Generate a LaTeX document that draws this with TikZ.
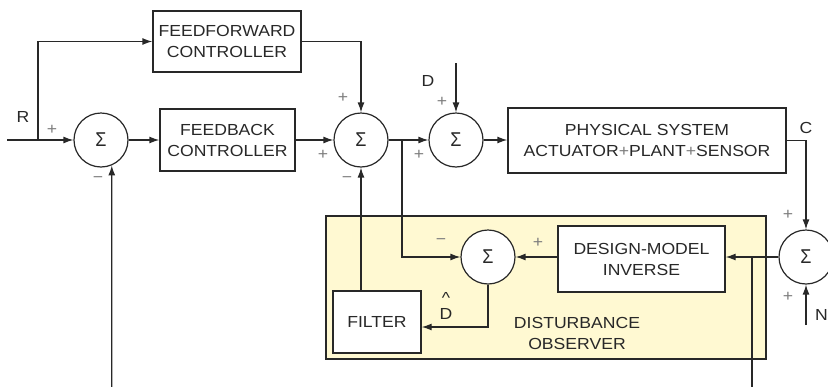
\documentclass[tikz,border=0pt]{standalone}
\usepackage{fontspec}
\setmainfont{Liberation Sans}[FakeStretch=1.1]
\newfontfamily\sigmafont{Liberation Sans}[FakeStretch=0.9]
\usepackage{tikz}
\usetikzlibrary{arrows.meta}
\definecolor{obsyellow}{RGB}{255,249,210}
\definecolor{linegray}{RGB}{40,40,40}
\definecolor{signgray}{RGB}{125,125,125}

\begin{document}
\begin{tikzpicture}[
    x=1pt, y=-1pt,
    font=\fontsize{16}{21}\selectfont, color=linegray,
    arrow/.style={-{Latex[length=10pt,width=7pt]}, line width=1.3pt, linegray},
    block/.style={draw=linegray, line width=1.3pt, fill=white, align=center,
                  inner sep=0pt},
    summ/.style={circle, draw=linegray, line width=1.2pt, fill=white,
                 minimum size=54pt, inner sep=0pt,
                 font=\sigmafont\fontsize{20}{20}\selectfont},
    sgn/.style={signgray, inner sep=0pt}
]
\useasboundingbox (0,0) rectangle (828,386);
\clip (0,0) rectangle (828,386);

\node[draw=linegray, line width=1.3pt, fill=obsyellow, minimum width=440pt,
      minimum height=143pt, inner sep=0pt] (obs) at (546,287.5) {};
\node[align=center] (obslabel) at (577,333) {DISTURBANCE\\OBSERVER};

\node[block, minimum width=148pt, minimum height=61pt] (ff) at (227,41.5)
    {FEEDFORWARD\\CONTROLLER};
\node[block, minimum width=135pt, minimum height=62pt] (fb) at (227.5,140)
    {FEEDBACK\\CONTROLLER};
\node[block, minimum width=278pt, minimum height=65pt] (plant) at (647,140.5)
    {PHYSICAL SYSTEM\\ACTUATOR{\color{signgray}+}PLANT{\color{signgray}+}SENSOR};
\node[block, minimum width=167pt, minimum height=66pt] (dmi) at (641.5,259)
    {DESIGN-MODEL\\INVERSE};
\node[block, minimum width=88pt, minimum height=62pt] (filter) at (377,322)
    {FILTER};

\foreach \n/\px/\py in {s1/101/140, s2/361/140, s3/456/140, s4/488/257, s5/806/257}
    \node[summ] (\n) at (\px,\py) {Σ};

\coordinate (rin) at (7,140);
\coordinate (rsplit) at (38,140);
\coordinate (dtop) at (456,63);
\coordinate (nbot) at (806,325);
\coordinate (fbbot) at (111.7,392);
\coordinate (osplit) at (402,140);
\coordinate (msplit) at (752,257);
\coordinate (mbot) at (752,392);

\draw[arrow] (rin) -- (s1);
\draw[arrow] (rsplit) |- (ff);
\draw[arrow] (s1) -- (fb);
\draw[arrow] (fb) -- (s2);
\draw[arrow] (ff) -| (s2);
\draw[arrow] (s2) -- (s3);
\draw[arrow] (osplit) |- (s4);
\draw[arrow] (dtop) -- (s3);
\draw[arrow] (s3) -- (s3 -| plant.west);
\draw[arrow] (plant) -| (s5);
\draw[arrow] (nbot) -- (s5);
\draw[arrow] (s5) -- (s5 -| dmi.east);
\draw[line width=1.3pt] (msplit) -- (mbot);
\draw[arrow] (dmi.west |- s4) -- (s4);
\draw[arrow] (s4) |- (filter.east |- 0,327);
\draw[arrow] (s2.south |- filter.north) -- (s2);
\draw[arrow] (fbbot) -- (s1.-67);

\node (rlab) at (23,117) {R};
\node (dlab) at (428,81) {D};
\node (clab) at (806,128) {C};
\node[anchor=west, inner sep=0pt] (nlab) at (815,315) {N};
\node[align=center, inner sep=0pt] (dhat) at (446,306) {\textasciicircum\\[-5pt]D};

\node[sgn] (p1) at (52,130) {+};
\node[sgn] (m1) at (98,180) {−};
\node[sgn] (p2a) at (343,98) {+};
\node[sgn] (p2b) at (323,155) {+};
\node[sgn] (m2) at (347,180) {−};
\node[sgn] (p3a) at (442,102) {+};
\node[sgn] (p3b) at (419,155) {+};
\node[sgn] (m4) at (441,242) {−};
\node[sgn] (p4) at (538,243) {+};
\node[sgn] (p5a) at (788,215) {+};
\node[sgn] (p5b) at (788,297) {+};
\end{tikzpicture}
\end{document}
